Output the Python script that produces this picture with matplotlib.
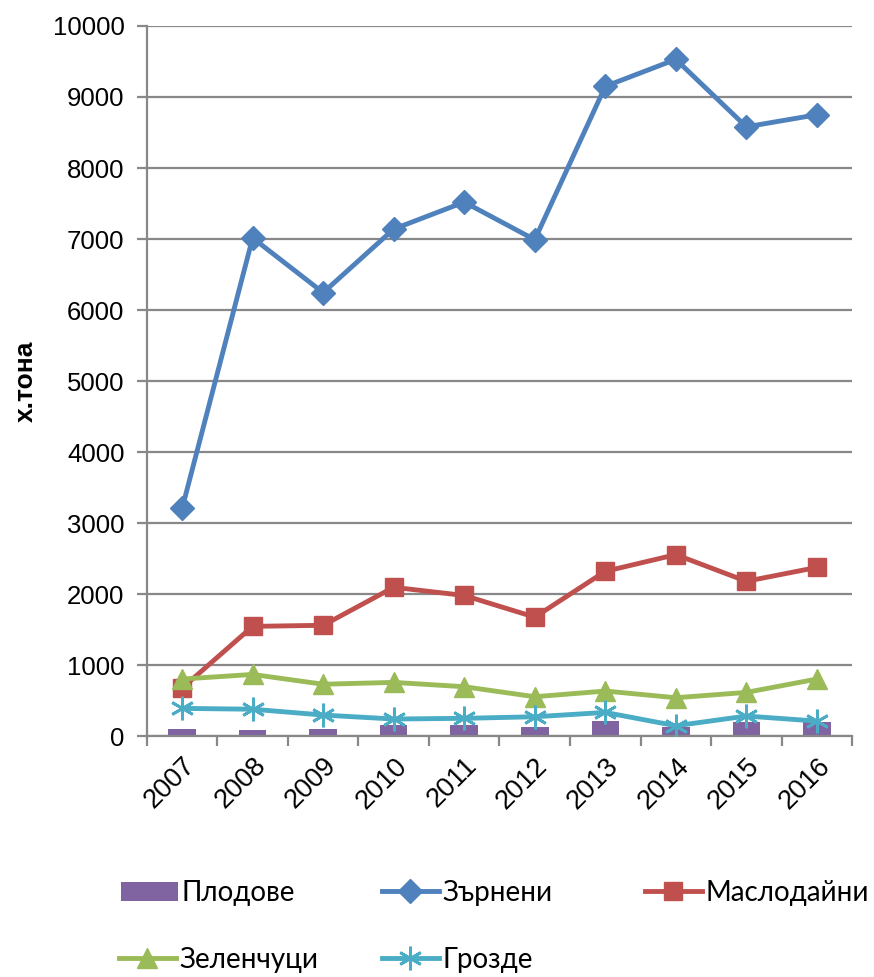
import matplotlib
matplotlib.use("Agg")
import matplotlib.pyplot as plt
from matplotlib.ticker import MultipleLocator, FixedLocator
import numpy as np

years = ["2007", "2008", "2009", "2010", "2011", "2012", "2013", "2014", "2015", "2016"]
plodove = [100, 80, 103, 150, 160, 127, 211, 131, 202, 192]
zarneni = [3205, 7015, 6245, 7140, 7520, 6990, 9150, 9530, 8580, 8750]
maslodaini = [675, 1545, 1560, 2095, 1980, 1675, 2320, 2555, 2180, 2375]
zelenchuci = [803, 868, 730, 756, 695, 554, 634, 540, 615, 803]
grozde = [390, 378, 296, 240, 250, 272, 333, 145, 282, 211]

names = ["Плодове", "Зърнени", "Маслодайни", "Зеленчуци", "Грозде"]

fig = plt.figure(figsize=(8.74, 9.77), dpi=100)
ax = fig.add_axes([0.168, 0.2466, 0.807, 0.7268])
x = np.arange(len(years))

grid_c = "#888888"
lw = 3.5
bars = ax.bar(x, plodove, width=0.39, color="#8064A2", zorder=2)
l1, = ax.plot(x, zarneni, color="#4F81BD", lw=lw, marker="D", ms=12, zorder=3)
l2, = ax.plot(x, maslodaini, color="#C0504D", lw=lw, marker="s", ms=13, zorder=3)
l3, = ax.plot(x, zelenchuci, color="#9BBB59", lw=lw, marker="^", ms=14, zorder=3)
l4, = ax.plot(x, grozde, color="#4BACC6", lw=lw, marker=(6, 2, 0), ms=17, mew=2, zorder=3)

ax.set_xlim(-0.5, len(years) - 0.5)
ax.set_ylim(0, 10000)
ax.yaxis.set_major_locator(MultipleLocator(1000))
ax.grid(axis="y", color=grid_c, lw=1.6, zorder=0)
ax.set_axisbelow(True)
for s in ["top", "right"]:
    ax.spines[s].set_visible(False)
for s in ["left", "bottom"]:
    ax.spines[s].set_color(grid_c)
    ax.spines[s].set_linewidth(1.6)

tfam = ["Liberation Sans", "DejaVu Sans"]
ax.set_xticks(x)
ax.set_xticklabels(years, rotation=45, ha="right", rotation_mode="anchor", fontsize=19.5, family=tfam)
ax.tick_params(axis="x", length=0, pad=12)
ax.xaxis.set_minor_locator(FixedLocator(np.arange(-0.5, len(years), 1.0)))
ax.tick_params(axis="x", which="minor", length=7, width=1.6, color=grid_c)
ax.tick_params(axis="y", length=7, width=1.6, color=grid_c, labelsize=18.5, pad=9)
for t in ax.get_yticklabels():
    t.set_family(tfam)

ax.set_ylabel("х.тона", fontsize=19, fontweight="bold", family=tfam)
ax.yaxis.set_label_coords(-0.154, 0.5, transform=ax.transAxes)

lfam = ["Lato", "DejaVu Sans"]
entries = [(bars, names[0], 121, 893), (l1, names[1], 382, 893), (l2, names[2], 645, 893),
           (l3, names[3], 119, 960), (l4, names[4], 382, 960)]
W, H = 874.0, 977.0
for h, n, px, py in entries:
    fig.legend(handles=[h], labels=[n], loc="center left",
               bbox_to_anchor=(px / W, 1 - py / H), frameon=False,
               borderpad=0, borderaxespad=0, handlelength=2.05, handletextpad=0.12,
               prop={"family": lfam, "size": 20})

fig.savefig("out.png", dpi=100)
